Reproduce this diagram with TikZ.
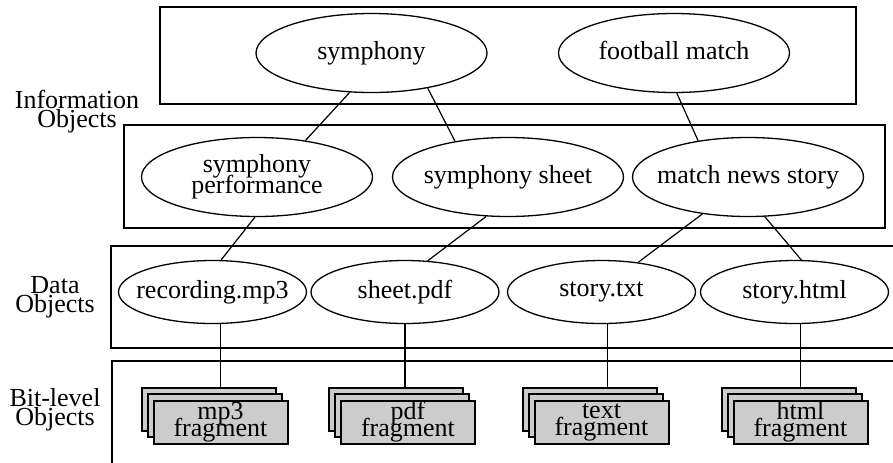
\documentclass[tikz,border=0pt]{standalone}
\usepackage{fontspec}
\setmainfont{Liberation Serif}
\usetikzlibrary{shapes.geometric}
\newcommand{\tightfont}[2]{\fontsize{#1}{#2}\selectfont\lineskiplimit=-20pt\relax}
\tikzset{
  layer/.style={draw=black,line width=.75pt},
  obj/.style={ellipse,draw=black,line width=.65pt,inner sep=0pt,font=\fontsize{13}{10}\selectfont},
  info/.style={obj,minimum width=115.5pt,minimum height=39.5pt},
  data/.style={obj,minimum width=94pt,minimum height=31.5pt},
  frag/.style={draw=black,fill=black!20,line width=1pt,minimum width=67pt,minimum height=21.5pt,
    inner sep=0pt,align=center,font={\tightfont{13}{8.5}}},
  lvl/.style={align=center,font={\tightfont{13}{9.5}}},
  link/.style={draw=black,line width=.6pt},
}
\newcommand{\ctr}[1]{\makebox[0pt]{\begin{tabular}{@{}c@{}}#1\end{tabular}}}

\begin{document}
\begin{tikzpicture}[x=.5pt,y=-.5pt]
\useasboundingbox (0,0) rectangle (893,462);\clip (0,0) rectangle (893,462);
\draw[layer] (160,7) rectangle (856,104);\draw[layer] (124,125) rectangle (885,228);
\draw[layer] (111,246) rectangle (910,348);\draw[layer] (112,361) rectangle (910,480);
\node[lvl](infolvl) at (77,112){Information\\Objects};
\node[lvl](datalvl) at (55,297){Data\\Objects};
\node[lvl](bitlvl) at (55,409.5){Bit-level\\Objects};
\node[info](sym) at (371.5,53){\ctr{symphony}};\node[info](foot) at (674,53){\ctr{football match}};
\node[info](perf) at (257,177){\ctr{symphony\\[-2pt]performance}};
\node[info](sheet) at (508,177){\ctr{symphony sheet}};
\node[info](news) at (748,177){\ctr{match news story}};
\node[data](recmp) at (212.5,292){\ctr{recording.mp3}};\node[data](sheetpdf) at (405,292){\ctr{sheet.pdf}};
\node[data](storytxt) at (601.5,292){\ctr{story.txt}};\node[data](storyhtml) at (794.5,292){\ctr{story.html}};
\foreach \n/\x/\t in {fmp3/220.5/mp3,fpdf/408/pdf,ftxt/601.5/text,fhtml/800.5/html}{
  \node[frag] at (\x-12,409){};\node[frag] at (\x-6,415.5){};
  \node[frag](\n) at (\x,422){\t\\fragment};}
\draw[link](sym.241)--(perf.37);\draw[link](sym.328)--(sheet.146);\draw[link](foot.274)--(news.144);
\draw[link](perf.267)--(recmp.75);\draw[link](sheet.241)--(sheetpdf.54);
\draw[link](news.219)--(storytxt.39);\draw[link](news.293)--(storyhtml.78);
\draw[link](recmp.south -| fmp3.north)--([yshift=6.5pt]fmp3.north);
\draw[link](sheetpdf.south)--([yshift=6.5pt]fpdf.north -| sheetpdf.south);
\draw[link]([xshift=3pt]storytxt.south)--([xshift=3pt,yshift=6.5pt]ftxt.north);
\draw[link](storyhtml.south -| fhtml.north)--([yshift=6.5pt]fhtml.north);
\end{tikzpicture}
\end{document}
